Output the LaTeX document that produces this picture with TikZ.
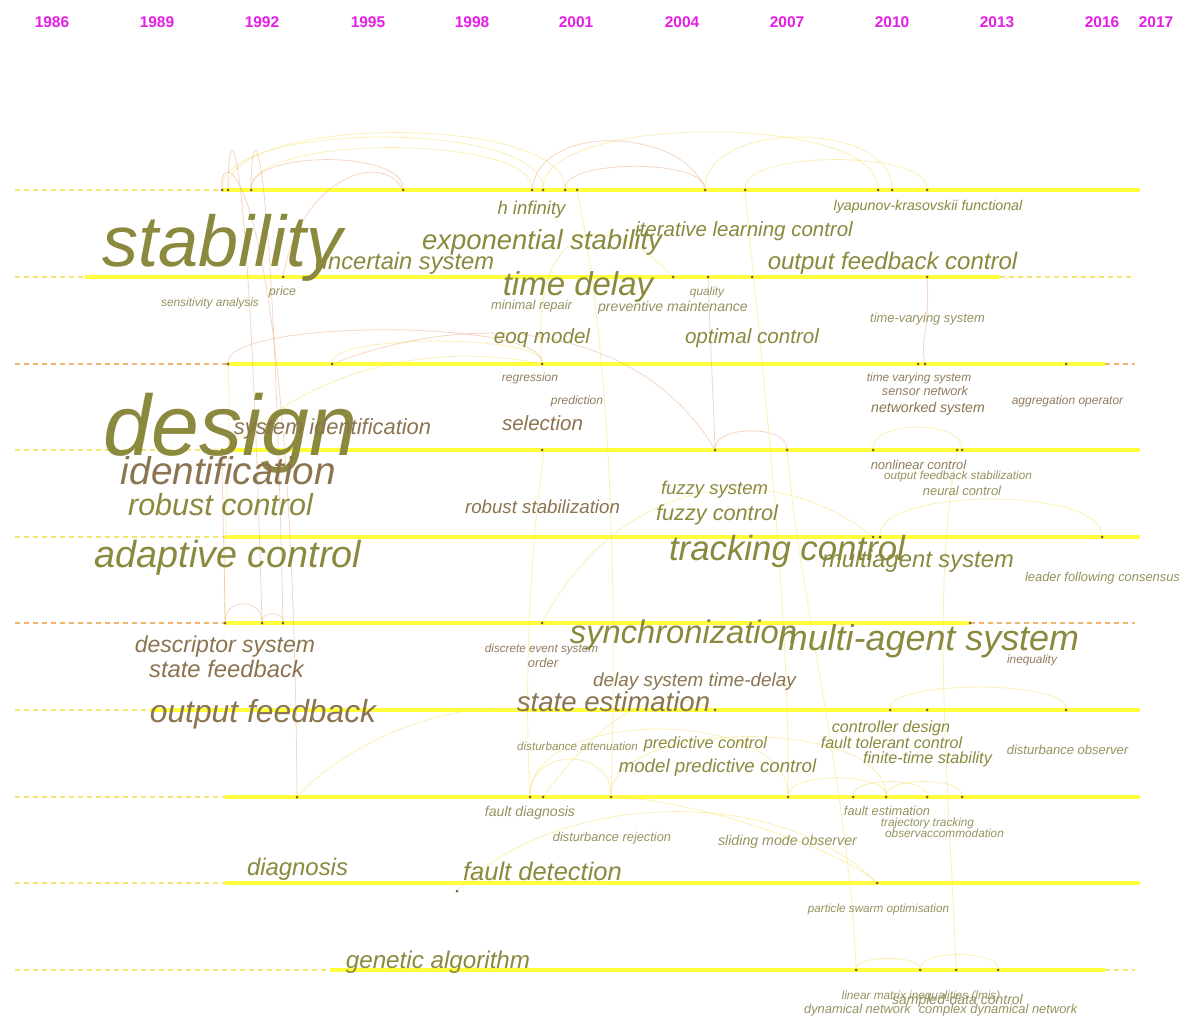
\documentclass[tikz,border=0pt]{standalone}
\usepackage{fontspec}
\setmainfont{Liberation Sans}
\newcommand\lfs[1]{\fontsize{#1}{#1}\selectfont\itshape}
\definecolor{lineyellow}{RGB}{255,255,60}
\definecolor{dashyellow}{RGB}{245,228,110}
\definecolor{dashorange}{RGB}{240,180,110}
\definecolor{dotc}{RGB}{125,85,65}
\definecolor{yearc}{RGB}{228,30,228}
\definecolor{olive}{RGB}{139,137,62}
\definecolor{brownl}{RGB}{139,116,80}
\definecolor{smallol}{RGB}{150,146,95}
\definecolor{smallbr}{RGB}{145,125,95}
\definecolor{arcyel}{RGB}{248,225,110}
\definecolor{arcora}{RGB}{235,165,120}
\tikzset{
  rowline/.style={line width=4pt, draw=lineyellow},
  dashy/.style={line width=1.1pt, draw=dashyellow, dash pattern=on 5pt off 4pt},
  dasho/.style={line width=1.1pt, draw=dashorange, dash pattern=on 5pt off 4pt},
  dot/.style={circle, fill=dotc, inner sep=0pt, minimum size=3pt},
  lab/.style={anchor=base, inner sep=0pt},
  arcy/.style={draw=arcyel, line width=0.8pt, opacity=0.5},
  arco/.style={draw=arcora, line width=0.8pt, opacity=0.45},
  year/.style={font=\fontsize{15.5}{16}\selectfont\bfseries, text=yearc, inner sep=0pt}
}
\begin{document}
\begin{tikzpicture}[x=1pt,y=-1pt]
\useasboundingbox[fill=white] (0,0) rectangle (1183,1016);
% years
\node[year] (y1986) at (52,22) {1986};
\node[year] (y1989) at (157,22) {1989};
\node[year] (y1992) at (262,22) {1992};
\node[year] (y1995) at (368,22) {1995};
\node[year] (y1998) at (472,22) {1998};
\node[year] (y2001) at (576,22) {2001};
\node[year] (y2004) at (682,22) {2004};
\node[year] (y2007) at (787,22) {2007};
\node[year] (y2010) at (892,22) {2010};
\node[year] (y2013) at (997,22) {2013};
\node[year] (y2016) at (1102,22) {2016};
\node[year] (y2017) at (1156,22) {2017};
% timelines
\draw[dashy] (15,190) -- (222,190); \draw[rowline] (222,190) -- (1140,190);
\draw[dashy] (15,277) -- (85,277); \draw[rowline] (85,277) -- (1000,277); \draw[dashy] (1000,277) -- (1135,277);
\draw[dasho] (15,364) -- (228,364); \draw[rowline] (228,364) -- (1105,364); \draw[dasho] (1105,364) -- (1135,364);
\draw[dashy] (15,450) -- (222,450); \draw[rowline] (222,450) -- (1140,450);
\draw[dashy] (15,537) -- (225,537); \draw[rowline] (225,537) -- (1140,537);
\draw[dasho] (15,623) -- (225,623); \draw[rowline] (225,623) -- (970,623); \draw[dasho] (970,623) -- (1135,623);
\draw[dashy] (15,710) -- (150,710); \draw[rowline] (150,710) -- (1140,710);
\draw[dashy] (15,797) -- (225,797); \draw[rowline] (225,797) -- (1140,797);
\draw[dashy] (15,883) -- (225,883); \draw[rowline] (225,883) -- (1140,883);
\draw[dashy] (15,970) -- (330,970); \draw[rowline] (330,970) -- (1105,970); \draw[dashy] (1105,970) -- (1135,970);
% dots
\foreach \x in {222,228,251,403,532,543,565,577,705,745,878,892,927} \node[dot] (r1-\x) at (\x,190) {};
\foreach \x in {283,673,708,752,927} \node[dot] (r2-\x) at (\x,277) {};
\foreach \x in {228,332,542,918,925,1066} \node[dot] (r3-\x) at (\x,364) {};
\foreach \x in {222,226,542,715,787,873,957,962} \node[dot] (r4-\x) at (\x,450) {};
\foreach \x in {873,880,1102} \node[dot] (r5-\x) at (\x,537) {};
\foreach \x in {225,262,283,542,970} \node[dot] (r6-\x) at (\x,623) {};
\foreach \x in {527,715,890,927,1066} \node[dot] (r7-\x) at (\x,710) {};
\foreach \x in {297,530,543,611,788,853,886,927,962} \node[dot] (r8-\x) at (\x,797) {};
\node[dot] (r9-877) at (877,883) {};
\node[dot] (r9-457) at (457,891) {};
\foreach \x in {856,920,956,998} \node[dot] (r10-\x) at (\x,970) {};
% arcs
\draw[arcy] (r1-228) .. controls +(0,-76) and +(0,-76) .. (r1-565);
\draw[arcy] (r1-251) .. controls +(0,-56) and +(0,-56) .. (r1-532);
\draw[arcy] (r1-222) .. controls +(0,-70) and +(0,-70) .. (r1-543);
\draw[arco] (r1-251) .. controls +(0,-40) and +(0,-40) .. (r1-403);
\draw[arco] (r2-283) .. controls (300,180) and (380,150) .. (r1-403);
\draw[arco] (r1-565) .. controls +(0,-31) and +(0,-31) .. (r1-705);
\draw[arcy] (r1-543) .. controls +(0,-77) and +(0,-77) .. (r1-878);
\draw[arco] (r1-532) .. controls +(10,-70) and +(-20,-60) .. (r1-705);
\draw[arcy] (r1-705) .. controls +(0,-70) and +(0,-70) .. (r1-892);
\draw[arcy] (r1-745) .. controls +(0,-40) and +(0,-40) .. (r1-927);
\draw[arco] (r1-228) .. controls (228,110) and (248,110) .. (r6-262);
\draw[arco] (r1-251) .. controls (251,110) and (272,110) .. (r6-283);
\draw[arco] (r1-222) .. controls (218,140) and (292,160) .. (r8-297);
\draw[arcy] (r3-228) .. controls (232,450) and (222,550) .. (r6-225);
\draw[arco] (r4-222) .. controls +(0,40) and +(0,-40) .. (r6-225);
\draw[arco] (r3-228) .. controls +(0,-45) and +(0,-45) .. (r3-542);
\draw[arcy] (r3-332) .. controls +(0,-30) and +(0,-30) .. (r3-542);
\draw[arcy] (r4-226) .. controls +(100,-90) and +(-100,-20) .. (r3-542);
\draw[arco] (r3-332) .. controls (500,300) and (650,340) .. (r4-715);
\draw[arco] (r2-708) .. controls +(2,60) and +(-2,-60) .. (r4-715);
\draw[arcy] (r2-673) .. controls (600,200) and (530,230) .. (r3-542);
\draw[arco] (r4-715) .. controls +(0,-25) and +(0,-25) .. (r4-787);
\draw[arcy] (r4-873) .. controls +(0,-30) and +(0,-30) .. (r4-962);
\draw[arcy] (r5-880) .. controls +(0,-50) and +(0,-50) .. (r5-1102);
\draw[arcy] (r6-542) .. controls +(80,-150) and +(-100,-80) .. (r5-873);
\draw[arco] (r6-225) .. controls +(0,-25) and +(0,-25) .. (r6-262);
\draw[arco] (r6-262) .. controls +(0,-12) and +(0,-12) .. (r6-283);
\draw[arcy] (r8-297) .. controls (350,740) and (450,700) .. (r7-527);
\draw[arcy] (r8-530) .. controls +(0,-50) and +(0,-50) .. (r8-611);
\draw[arcy] (r8-530) .. controls +(0,-90) and +(0,-90) .. (r8-788);
\draw[arcy] (r8-611) .. controls +(0,-80) and +(0,-80) .. (r8-886);
\draw[arcy] (r8-788) .. controls +(0,-25) and +(0,-25) .. (r8-886);
\draw[arcy] (r8-853) .. controls +(0,-20) and +(0,-20) .. (r8-927);
\draw[arcy] (r8-886) .. controls +(0,-20) and +(0,-20) .. (r8-962);
\draw[arcy] (r8-543) .. controls +(60,-80) and +(-60,-30) .. (r7-715);
\draw[arcy] (r8-611) .. controls (620,500) and (600,300) .. (r1-577);
\draw[arcy] (r8-788) .. controls (790,600) and (760,350) .. (r1-745);
\draw[arcy] (r8-530) .. controls (520,600) and (545,450) .. (r4-542);
\draw[arcy] (r10-856) .. controls (850,800) and (800,600) .. (r4-787);
\draw[arcy] (r10-956) .. controls (950,800) and (930,600) .. (r4-957);
\draw[arcy] (r9-457) .. controls +(100,-100) and +(-100,-100) .. (r9-877);
\draw[arcy] (r9-877) .. controls (840,850) and (700,800) .. (r8-611);
\draw[arcy] (r10-856) .. controls +(0,-15) and +(0,-15) .. (r10-920);
\draw[arcy] (r10-920) .. controls +(0,-20) and +(0,-20) .. (r10-998);
\draw[arcy] (r7-890) .. controls +(0,-30) and +(0,-30) .. (r7-1066);
\draw[arco] (r2-927) .. controls (930,330) and (920,340) .. (r3-925);
% labels
\node[lab, font=\lfs{18.5}, text=olive] (l1) at (531.5,215) {h infinity};
\node[lab, font=\lfs{14.2}, text=olive] (l2) at (928,211) {lyapunov-krasovskii functional};
\node[lab, font=\lfs{72}, text=olive] (l3) at (222.5,267) {stability};
\node[lab, font=\lfs{23.7}, text=olive] (l4) at (404.5,270) {uncertain system};
\node[lab, font=\lfs{27.5}, text=olive] (l5) at (542,250) {exponential stability};
\node[lab, font=\lfs{20.5}, text=olive] (l6) at (744,237) {iterative learning control};
\node[lab, font=\lfs{24}, text=olive] (l7) at (892.5,270) {output feedback control};
\node[lab, font=\lfs{33}, text=olive] (l8) at (578,295) {time delay};
\node[lab, font=\lfs{11.9}, text=smallol] (l9) at (210,306) {sensitivity analysis};
\node[lab, font=\lfs{12.5}, text=smallol] (l10) at (282.5,295) {price};
\node[lab, font=\lfs{12.9}, text=smallol] (l11) at (531.5,309) {minimal repair};
\node[lab, font=\lfs{11.8}, text=smallol] (l12) at (707,296) {quality};
\node[lab, font=\lfs{14.1}, text=smallol] (l13) at (673,312) {preventive maintenance};
\node[lab, font=\lfs{20.6}, text=olive] (l14) at (542,343) {eoq model};
\node[lab, font=\lfs{20.6}, text=olive] (l15) at (752,343) {optimal control};
\node[lab, font=\lfs{12.9}, text=smallol] (l16) at (927.5,322) {time-varying system};
\node[lab, font=\lfs{12}, text=smallbr] (l17) at (530,381) {regression};
\node[lab, font=\lfs{12}, text=smallbr] (l18) at (577,404) {prediction};
\node[lab, font=\lfs{20.5}, text=brownl] (l19) at (542.5,430) {selection};
\node[lab, font=\lfs{86}, text=olive] (l20) at (230.5,455) {design};
\node[lab, font=\lfs{21.9}, text=brownl] (l21) at (332.5,434) {system identification};
\node[lab, font=\lfs{11.8}, text=smallbr] (l22) at (919,381) {time varying system};
\node[lab, font=\lfs{12.7}, text=smallbr] (l23) at (925,395) {sensor network};
\node[lab, font=\lfs{14.1}, text=brownl] (l24) at (928,412) {networked system};
\node[lab, font=\lfs{12}, text=smallbr] (l25) at (1067.5,404) {aggregation operator};
\node[lab, font=\lfs{38.7}, text=brownl] (l26) at (228.5,484) {identification};
\node[lab, font=\lfs{30.5}, text=olive] (l27) at (220.5,515) {robust control};
\node[lab, font=\lfs{18.7}, text=brownl] (l28) at (542.5,513) {robust stabilization};
\node[lab, font=\lfs{18.5}, text=olive] (l29) at (714.5,494) {fuzzy system};
\node[lab, font=\lfs{21.7}, text=olive] (l30) at (717,520) {fuzzy control};
\node[lab, font=\lfs{12.9}, text=smallbr] (l31) at (918.5,469) {nonlinear control};
\node[lab, font=\lfs{11.7}, text=smallol] (l32) at (958,479) {output feedback stabilization};
\node[lab, font=\lfs{12.9}, text=smallol] (l33) at (962,495) {neural control};
\node[lab, font=\lfs{37.7}, text=olive] (l34) at (228,567) {adaptive control};
\node[lab, font=\lfs{34.8}, text=olive] (l35) at (787,560) {tracking control};
\node[lab, font=\lfs{23.8}, text=olive] (l36) at (918,567) {multiagent system};
\node[lab, font=\lfs{12.9}, text=smallol] (l37) at (1102.5,581) {leader following consensus};
\node[lab, font=\lfs{23}, text=brownl] (l38) at (225,652) {descriptor system};
\node[lab, font=\lfs{23.8}, text=brownl] (l39) at (226.5,677) {state feedback};
\node[lab, font=\lfs{11.7}, text=smallbr] (l40) at (541.5,652) {discrete event system};
\node[lab, font=\lfs{12.9}, text=smallbr] (l41) at (543,667) {order};
\node[lab, font=\lfs{32.7}, text=olive] (l42) at (683.5,643) {synchronization};
\node[lab, font=\lfs{35.9}, text=olive] (l43) at (928.5,650) {multi-agent system};
\node[lab, font=\lfs{11.8}, text=smallbr] (l44) at (1032,663) {inequality};
\node[lab, font=\lfs{18.9}, text=brownl] (l45) at (694.5,686) {delay system time-delay};
\node[lab, font=\lfs{31.8}, text=brownl] (l46) at (263,722) {output feedback};
\node[lab, font=\lfs{27.6}, text=brownl] (l47) at (613.5,711) {state estimation};
\node[lab, font=\lfs{16.1}, text=olive] (l48) at (891,732) {controller design};
\node[lab, font=\lfs{16.1}, text=olive] (l49) at (891.5,748) {fault tolerant control};
\node[lab, font=\lfs{16.2}, text=olive] (l50) at (927.5,763) {finite-time stability};
\node[lab, font=\lfs{13}, text=smallol] (l51) at (1067.5,754) {disturbance observer};
\node[lab, font=\lfs{11.6}, text=smallol] (l52) at (577.5,750) {disturbance attenuation};
\node[lab, font=\lfs{16.3}, text=olive] (l53) at (705.5,748) {predictive control};
\node[lab, font=\lfs{18.7}, text=olive] (l54) at (717.5,772) {model predictive control};
\node[lab, font=\lfs{14.1}, text=smallol] (l55) at (530,816) {fault diagnosis};
\node[lab, font=\lfs{12.8}, text=smallol] (l56) at (612,841) {disturbance rejection};
\node[lab, font=\lfs{14.2}, text=smallol] (l57) at (787.5,845) {sliding mode observer};
\node[lab, font=\lfs{12.8}, text=smallol] (l58) at (887,815) {fault estimation};
\node[lab, font=\lfs{11.8}, text=smallol] (l59) at (927.5,826) {trajectory tracking};
\node[lab, font=\lfs{11.8}, text=smallol] (l60) at (944.5,837) {observaccommodation};
\node[lab, font=\lfs{23.9}, text=olive] (l61) at (297.5,875) {diagnosis};
\node[lab, font=\lfs{25.5}, text=olive] (l62) at (542.5,880) {fault detection};
\node[lab, font=\lfs{11.7}, text=smallol] (l63) at (878.5,912) {particle swarm optimisation};
\node[lab, font=\lfs{24.2}, text=olive] (l64) at (438,968) {genetic algorithm};
\node[lab, font=\lfs{11.8}, text=smallol] (l65) at (921,999) {linear matrix inequalities (lmis)};
\node[lab, font=\lfs{14}, text=smallol] (l66) at (957.5,1004) {sampled-data control};
\node[lab, font=\lfs{12.9}, text=smallol] (l67) at (857.5,1013) {dynamical network};
\node[lab, font=\lfs{12.9}, text=smallol] (l68) at (998,1013) {complex dynamical network};
\end{tikzpicture}
\end{document}
